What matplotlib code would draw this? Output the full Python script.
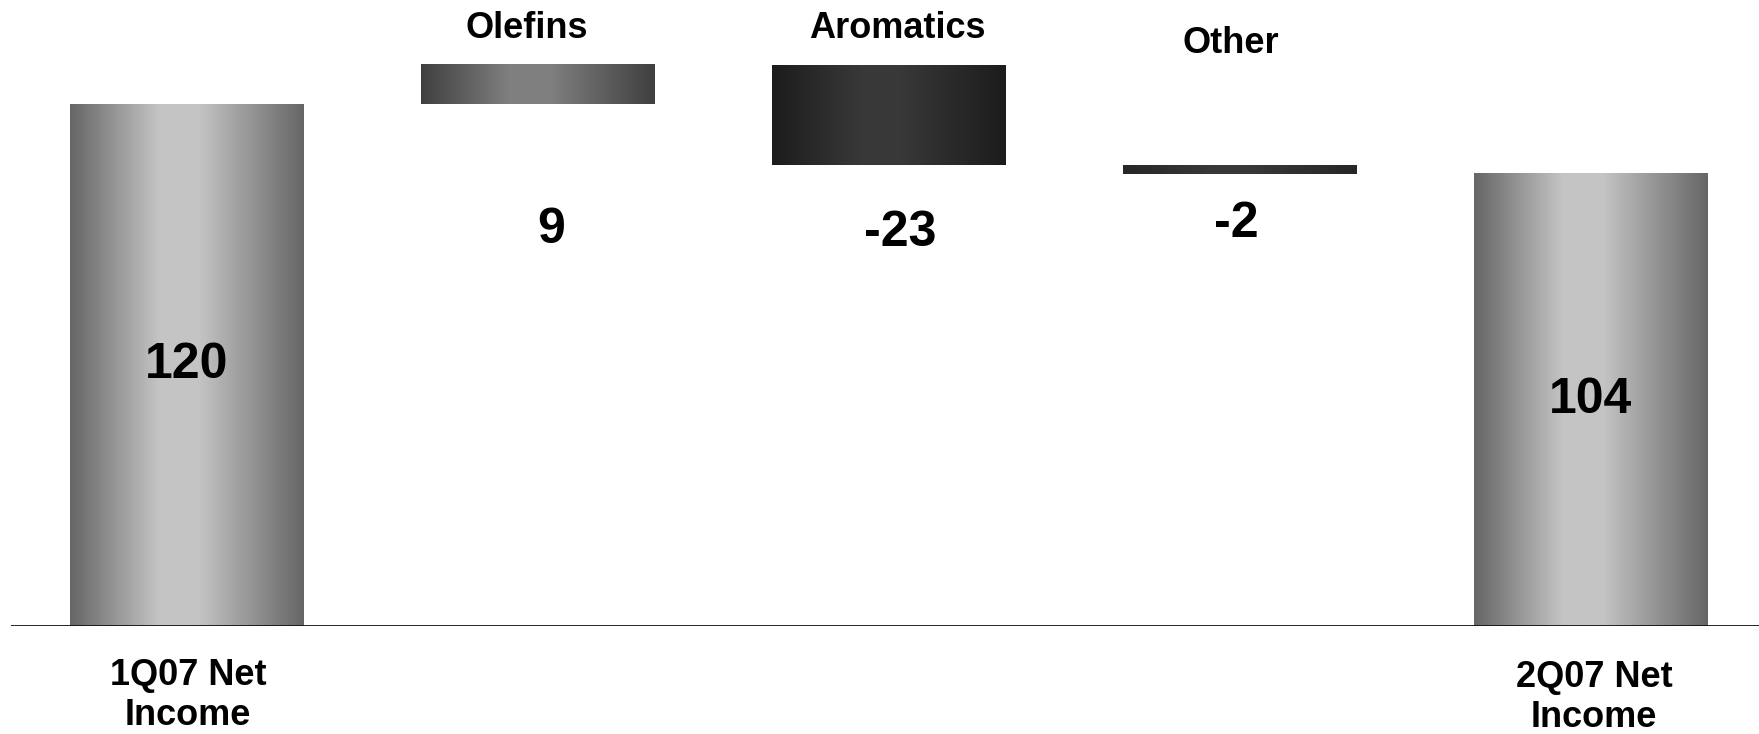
import numpy as np
import matplotlib.pyplot as plt
from matplotlib.colors import LinearSegmentedColormap

plt.rcParams['font.family'] = ['Liberation Sans', 'DejaVu Sans']
plt.rcParams['font.weight'] = 'bold'

labels = ["1Q07 Net\nIncome", "Olefins", "Aromatics", "Other", "2Q07 Net\nIncome"]
values = [120, 9, -23, -2, 104]
is_total = [True, False, False, False, True]

# bar shading: (edge grey, centre grey)
shades = [(0.40, 0.77), (0.25, 0.50), (0.11, 0.22), (0.15, 0.22), (0.40, 0.77)]

W, H = 1759, 734
fig = plt.figure(figsize=(W / 100, H / 100), dpi=100)
ax = fig.add_axes([11 / W, 108 / H, 1 - 11 / W, 626 / H])

x = np.arange(len(values))
bottoms = []
running = 0
for v, tot in zip(values, is_total):
    if tot:
        bottoms.append(0)
        running = v
    else:
        bottoms.append(running)
        running += v

bars = ax.bar(x, values, bottom=bottoms, width=0.665, color='none', edgecolor='none')

t = np.linspace(0, 1, 256)
for b, (lo, hi) in zip(bars, shades):
    x0, x1 = b.get_x(), b.get_x() + b.get_width()
    y0 = min(b.get_y(), b.get_y() + b.get_height())
    y1 = max(b.get_y(), b.get_y() + b.get_height())
    cmap = LinearSegmentedColormap.from_list(
        'g', [(0, (lo,) * 3), (0.38, (hi,) * 3), (0.55, (hi,) * 3), (1, (lo,) * 3)])
    ax.imshow(t[None, :], extent=[x0, x1, y0, y1], aspect='auto', cmap=cmap,
              vmin=0, vmax=1, zorder=2, interpolation='bilinear')

ax.axhline(0, color='#111111', lw=2, zorder=3)

# label placement (layout only)
name_y = [-16, 137.5, 137.5, 134, -16.5]
name_dx = [0.005, -0.03, 0.026, -0.026, 0.01]
num_y = [None, 91, 90.5, 92.5, None]
num_dx = [0, 0.038, 0.032, -0.01, 0]

for i, (lab, tot) in enumerate(zip(labels, is_total)):
    ax.text(x[i] + name_dx[i], name_y[i], lab, ha='center', va='center',
            fontsize=26, fontweight='bold', linespacing=1.2)
    ny = values[i] / 2 if tot else num_y[i]
    ax.text(x[i] + num_dx[i], ny, str(values[i]), ha='center', va='center',
            fontsize=36, fontweight='bold')

ax.set_xlim(-0.5, 4.48)
ax.set_ylim(0, 144)
ax.axis('off')

plt.savefig("out.png", dpi=100)
